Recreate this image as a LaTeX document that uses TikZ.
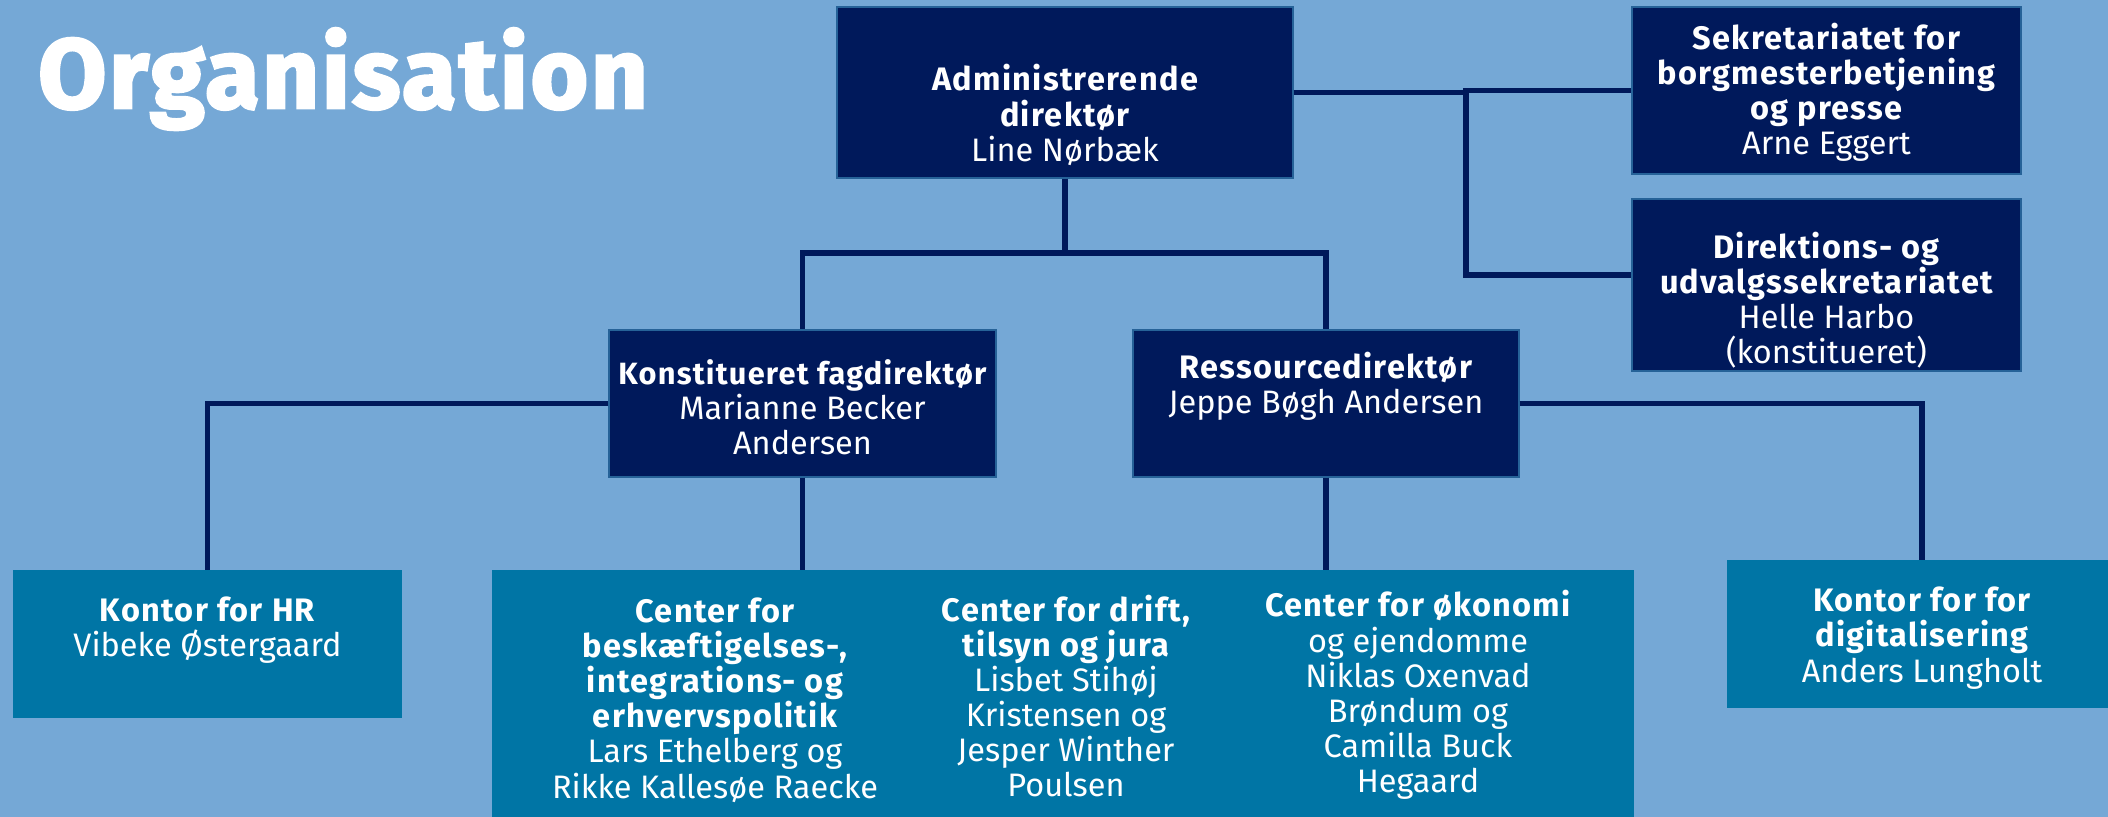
\documentclass[tikz,border=0pt]{standalone}
\usepackage{fontspec}
\setmainfont{Fira Sans}[BoldFeatures={LetterSpace=4}]
\newfontfamily\titlefont[BoldFeatures={FakeBold=3,LetterSpace=3}]{Fira Sans}
\usepackage{tikz}
\usetikzlibrary{calc}

\definecolor{bgblue}{RGB}{117,168,214}
\definecolor{navy}{RGB}{0,25,91}
\definecolor{boxteal}{RGB}{0,117,165}
\definecolor{rimblue}{RGB}{38,98,152}

\begin{document}
\begin{tikzpicture}[x=0.02cm,y=-0.02cm,
  leader/.style={fill=navy,draw=rimblue,line width=0.8pt,inner sep=0pt},
  unit/.style={fill=boxteal,inner sep=0pt},
  txt/.style={text=white,align=center,inner sep=0pt,font=\fontsize{18.5}{20}\selectfont},
  link/.style={draw=navy,line width=3.4pt}]

\def\px{0.02cm}   %one pixel of the chart.

% Background and frame
\fill[bgblue] (0,0) rectangle (2108,817);
\useasboundingbox (0,0) rectangle (2108,817);

\node[anchor=base west,inner sep=0pt,text=white,font=\titlefont\bfseries\fontsize{56}{56}\selectfont] (title) at (38,108) {Organisation};

% Top management
\node[leader,minimum width=456*\px,minimum height=171*\px] (adm) at (1065,92.5) {};
\node[leader,minimum width=389*\px,minimum height=167*\px] (sek) at (1826.5,90.5) {};
\node[leader,minimum width=389*\px,minimum height=172*\px] (dir) at (1826.5,285) {};
\node[leader,minimum width=387*\px,minimum height=147*\px] (kon) at (802.5,403.5) {};
\node[leader,minimum width=386*\px,minimum height=147*\px] (res) at (1326,403.5) {};

% Centres and offices
\node[unit,minimum width=389*\px,minimum height=148*\px] (hr) at (207.5,644) {};
\node[unit,minimum width=390*\px,minimum height=148*\px] (dig) at (1922,634) {};
\node[unit,minimum width=1142*\px,minimum height=260*\px] (ctr) at (1063,700) {};

% Texts
\node[txt] (adm-t) at ($(adm)+(0,22.5)$) {\bfseries Administrerende\\\bfseries direktør\\Line Nørbæk};
\node[txt] (sek-t) at ($(sek)+(0,2)$) {\bfseries Sekretariatet for\\\bfseries borgmesterbetjening\\\bfseries og presse\\Arne Eggert};
\node[txt] (dir-t) at ($(dir)+(0,15)$) {\bfseries Direktions- og\\\bfseries udvalgssekretariatet\\Helle Harbo\\(konstitueret)};
\node[txt] (kon-t) at ($(kon)+(0,3.5)$) {{\fontsize{17.5}{20}\selectfont\bfseries Konstitueret fagdirektør}\\Marianne Becker\\Andersen};
\node[txt] (res-t) at ($(res)+(0,-17)$) {\bfseries Ressourcedirektør\\Jeppe Bøgh Andersen};
\node[txt] (hr-t) at ($(hr)+(0,-13.5)$) {\bfseries Kontor for HR\\Vibeke Østergaard};
\node[txt] (dig-t) at ($(dig)+(0,4)$) {\bfseries Kontor for for\\\bfseries digitalisering\\Anders Lungholt};
\node[txt] (beskf) at (715,700) {\bfseries Center for\\\bfseries beskæftigelses-,\\\bfseries integrations- og\\\bfseries erhvervspolitik\\Lars Ethelberg og\\Rikke Kallesøe Raecke};
\node[txt] (drift) at (1066,696) {\bfseries Center for drift,\\\bfseries tilsyn og jura\\Lisbet Stihøj\\Kristensen og\\Jesper Winther\\Poulsen};
\node[txt] (oekon) at (1418,695) {\bfseries Center for økonomi\\og ejendomme\\Niklas Oxenvad\\Brøndum og\\Camilla Buck\\Hegaard};

% Reporting lines
\coordinate (split) at (1065,253);
\coordinate (rbranch) at (1466,92.5);
\draw[link] (adm.south) -- (split) -| (kon.north);
\draw[link] (split) -| (res.north);
\draw[link] (adm.east) -- (rbranch) |- (sek.west);
\draw[link] (rbranch) |- ([yshift=0.2cm]dir.west);
\draw[link] (kon.west) -| (hr.north);
\draw[link] (res.east) -| (dig.north);
\draw[link] (kon.south) -- (kon.south |- ctr.north);
\draw[link] (res.south) -- (res.south |- ctr.north);

\end{tikzpicture}
\end{document}
